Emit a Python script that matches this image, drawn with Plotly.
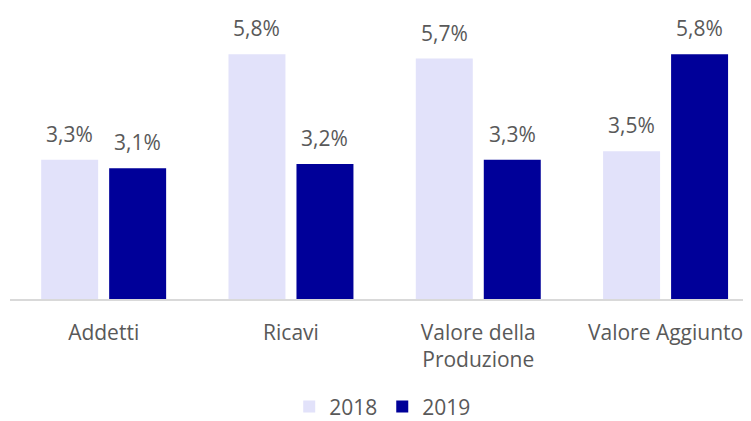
import plotly.graph_objects as go

categories = ["Addetti", "Ricavi", "Valore della<br>Produzione", "Valore Aggiunto"]
values_2018 = [3.3, 5.8, 5.7, 3.5]
values_2019 = [3.1, 3.2, 3.3, 5.8]
labels_2018 = ["3,3%", "5,8%", "5,7%", "3,5%"]
labels_2019 = ["3,1%", "3,2%", "3,3%", "5,8%"]

c2018 = "#E2E2FA"
c2019 = "#000099"
font_family = "Open Sans, Noto Sans, sans-serif"
text_color = "#595959"
fs = 21

fig = go.Figure()
fig.add_trace(go.Bar(name="2018", x=categories, y=values_2018, marker_color=c2018,
                     marker_line_width=0, hoverinfo="skip"))
fig.add_trace(go.Bar(name="2019", x=categories, y=values_2019, marker_color=c2019,
                     marker_line_width=0, hoverinfo="skip"))

for i, cat in enumerate(categories):
    fig.add_annotation(x=cat, y=values_2018[i], text=labels_2018[i], showarrow=False,
                       xref="x", yref="y", yanchor="bottom", xshift=-34, yshift=10,
                       font=dict(size=fs, color=text_color, family=font_family))
    fig.add_annotation(x=cat, y=values_2019[i], text=labels_2019[i], showarrow=False,
                       xref="x", yref="y", yanchor="bottom", xshift=34, yshift=10,
                       font=dict(size=fs, color=text_color, family=font_family))

fig.update_layout(
    width=743, height=413,
    margin=dict(l=2, r=0, t=2, b=122, autoexpand=False),
    paper_bgcolor="white", plot_bgcolor="white",
    barmode="group", bargap=0.274, bargroupgap=0.162,
    font=dict(family=font_family, color=text_color, size=fs),
    showlegend=True,
    legend=dict(orientation="h", x=0.503, xanchor="center", yref="container",
                y=0.034, yanchor="middle",
                font=dict(size=fs, color=text_color),
                traceorder="normal"),
    xaxis=dict(range=[-0.5, 3.456], showline=True, linecolor="#D9D9D9", linewidth=1.5,
               ticks="", ticklabelstandoff=14, tickfont=dict(size=fs, color=text_color),
               showgrid=False, zeroline=False, automargin=False),
    yaxis=dict(range=[0, 6.85], visible=False, showgrid=False, zeroline=False,
               automargin=False),
)

fig.write_html("out.html")
